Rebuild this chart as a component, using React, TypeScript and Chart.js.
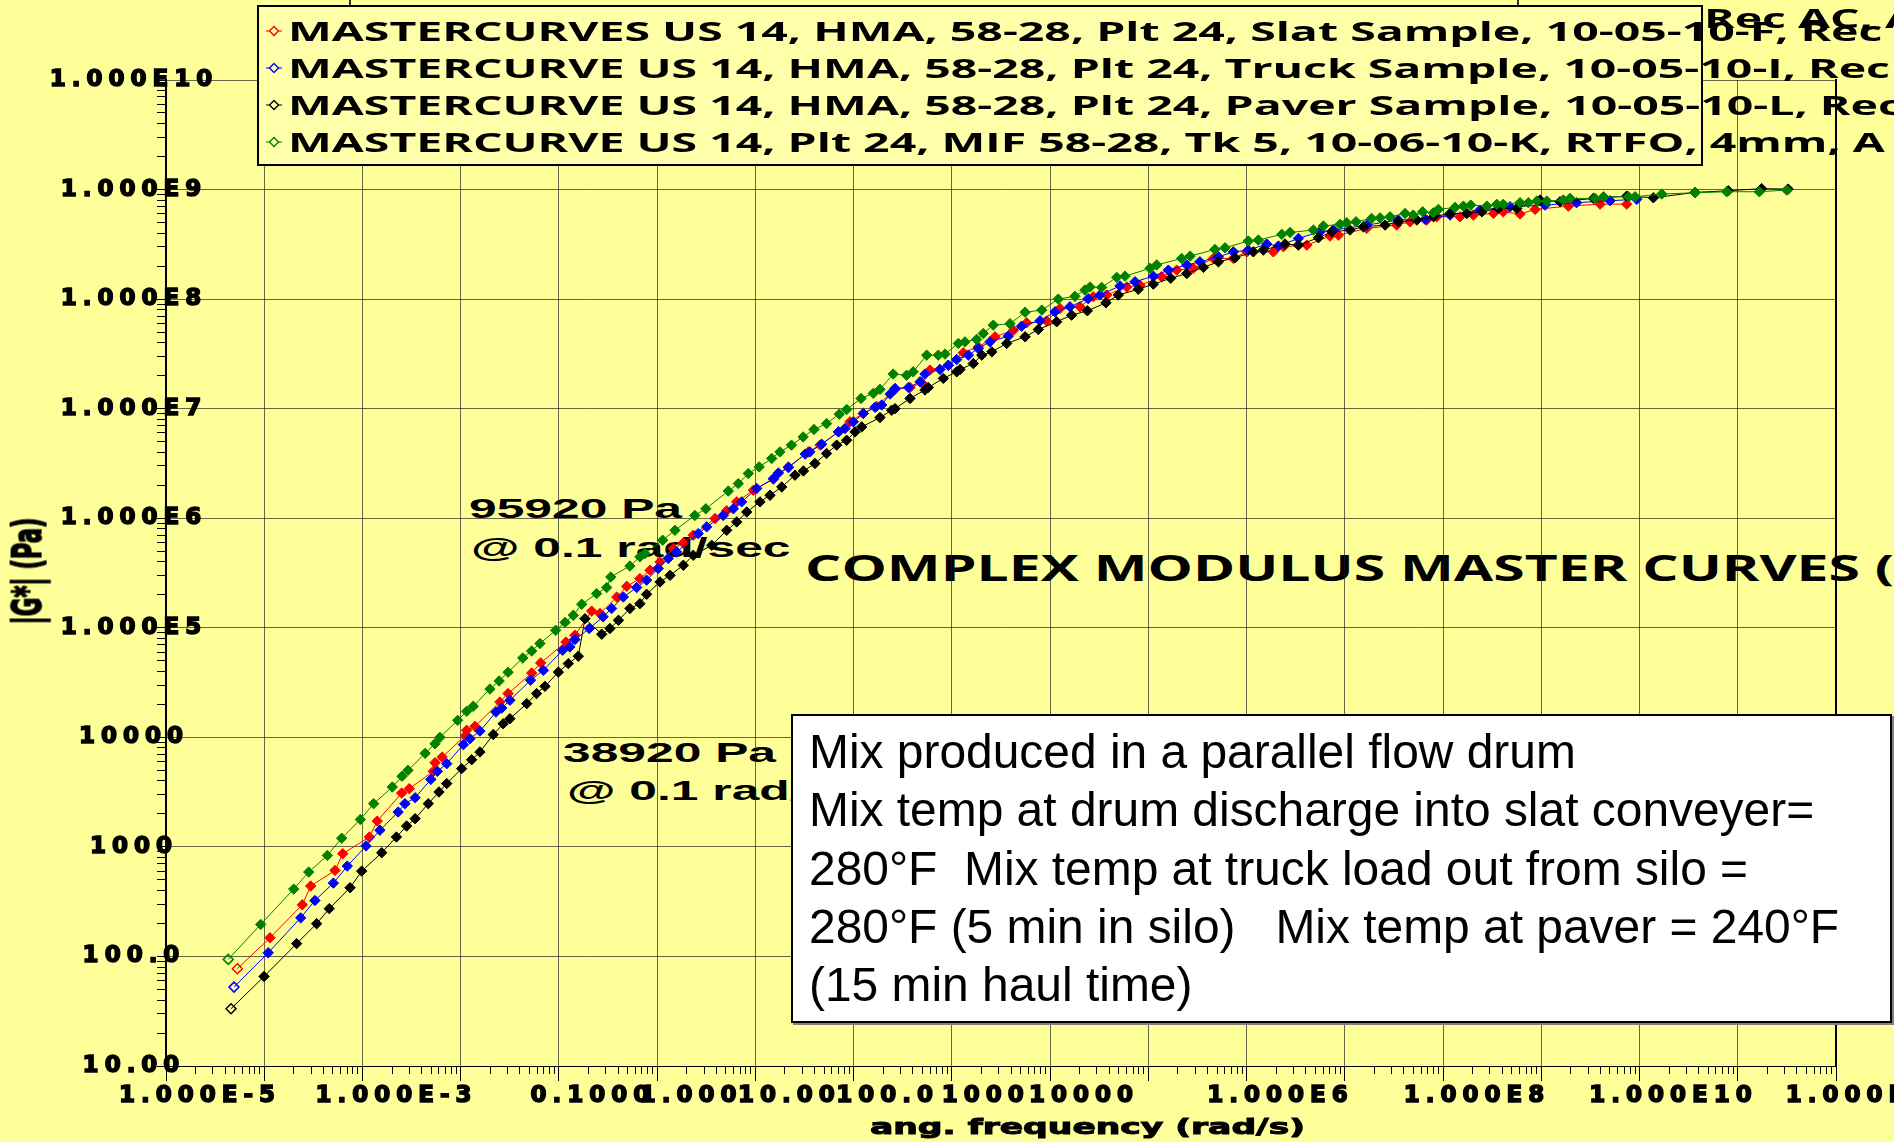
import React, { useEffect, useRef } from 'react';
import { Chart, registerables } from 'chart.js';

Chart.register(...registerables);

// ---------------- data ----------------
const RED_FREQ = [2.40e-5, 5.16e-5, 1.10e-4, 1.34e-4, 2.37e-4, 2.84e-4, 5.30e-4, 6.38e-4, 1.13e-3, 1.35e-3,
  2.37e-3, 2.47e-3, 2.92e-3, 5.05e-3, 5.18e-3, 6.30e-3, 1.13e-2, 1.37e-2, 2.38e-2, 2.94e-2,
  5.31e-2, 6.56e-2, 9.70e-2, 1.18e-1, 1.75e-1, 2.21e-1, 3.01e-1, 3.81e-1, 4.82e-1, 6.59e-1,
  8.32e-1, 1.05, 1.75, 2.30, 2.91, 4.30, 6.87, 9.77, 15.6, 20.5,
  31.6, 41.4, 56.6, 77.4, 119, 169, 222, 270, 415, 589,
  837, 1240, 1910, 2600, 4160, 5680, 9080, 1.24e4, 1.70e4, 2.72e4,
  3.71e4, 6.17e4, 8.77e4, 1.29e5, 2.07e5, 3.31e5, 4.52e5, 8.45e5, 1.07e6, 1.85e6,
  3.19e6, 3.88e6, 7.53e6, 1.52e7, 2.08e7, 3.08e7, 3.89e7, 6.71e7, 9.18e7, 1.47e8,
  1.85e8, 2.74e8, 3.90e8, 8.51e8, 1.79e9, 3.34e9];
const RED_MOD = [77.3, 148, 296, 439, 610, 867, 1230, 1720, 3100, 3400,
  4890, 5870, 6610, 10400, 11600, 12600, 21000, 25100, 38600, 47800,
  74100, 85500, 1.42e5, 1.35e5, 1.91e5, 2.39e5, 2.81e5, 3.35e5, 3.99e5, 5.28e5,
  5.94e5, 7.00e5, 9.93e5, 1.17e6, 1.41e6, 1.80e6, 2.27e6, 2.94e6, 4.03e6, 4.65e6,
  6.14e6, 7.59e6, 9.04e6, 1.05e7, 1.50e7, 1.56e7, 1.72e7, 2.25e7, 2.49e7, 3.24e7,
  3.66e7, 4.53e7, 5.21e7, 6.08e7, 6.31e7, 8.22e7, 8.51e7, 1.05e8, 1.09e8, 1.29e8,
  1.34e8, 1.60e8, 1.84e8, 1.91e8, 2.35e8, 2.35e8, 2.70e8, 2.70e8, 3.01e8, 3.11e8,
  3.76e8, 3.84e8, 4.42e8, 4.74e8, 5.08e8, 5.27e8, 5.65e8, 5.65e8, 5.85e8, 6.05e8,
  6.27e8, 5.97e8, 6.59e8, 7.06e8, 7.36e8, 7.36e8];

const BLUE_FREQ = [2.22e-5, 4.95e-5, 1.06e-4, 1.48e-4, 2.28e-4, 3.16e-4, 4.90e-4, 6.79e-4, 1.04e-3, 1.22e-3,
  1.55e-3, 2.24e-3, 2.61e-3, 3.25e-3, 4.80e-3, 5.61e-3, 7.08e-3, 1.03e-2, 1.18e-2, 1.43e-2,
  2.32e-2, 3.13e-2, 4.92e-2, 5.83e-2, 6.56e-2, 9.18e-2, 1.27e-1, 1.55e-1, 2.04e-1, 2.79e-1,
  3.52e-1, 4.62e-1, 5.85e-1, 7.11e-1, 1.18, 1.44, 2.12, 2.69, 3.27, 4.65,
  6.87, 7.73, 9.77, 14.5, 16.2, 21.3, 31.6, 36.8, 44.8, 56.6,
  74.5, 87.1, 106, 119, 163, 214, 240, 341, 415, 505,
  664, 837, 1100, 1690, 2310, 3560, 5060, 7180, 1.10e4, 1.45e4,
  2.32e4, 3.30e4, 5.07e4, 7.21e4, 1.11e5, 1.51e5, 2.33e5, 3.31e5, 4.70e5, 7.23e5,
  9.51e5, 1.52e6, 2.52e6, 3.45e6, 7.53e6, 1.58e7, 2.96e7, 5.32e7, 1.07e8, 2.17e8,
  4.92e8, 1.03e9, 2.26e9, 4.23e9];
const BLUE_MOD = [52.5, 108, 225, 324, 467, 668, 1020, 1420, 2080, 2480,
  2810, 4130, 4890, 5750, 8570, 9720, 11400, 17000, 18500, 21800,
  33200, 40900, 62400, 66800, 78000, 98400, 1.26e5, 1.50e5, 1.91e5, 2.33e5,
  2.72e5, 3.48e5, 4.29e5, 4.92e5, 7.24e5, 8.34e5, 1.06e6, 1.22e6, 1.41e6, 1.87e6,
  2.30e6, 2.59e6, 2.90e6, 3.85e6, 4.03e6, 4.74e6, 6.14e6, 6.59e6, 7.59e6, 9.04e6,
  1.03e7, 1.08e7, 1.36e7, 1.53e7, 1.56e7, 1.76e7, 2.07e7, 2.28e7, 2.49e7, 2.81e7,
  3.08e7, 3.54e7, 4.07e7, 4.59e7, 5.66e7, 6.34e7, 7.66e7, 8.51e7, 1.01e8, 1.09e8,
  1.32e8, 1.44e8, 1.62e8, 1.84e8, 2.05e8, 2.19e8, 2.43e8, 2.70e8, 2.80e8, 3.18e8,
  3.05e8, 3.58e8, 4.12e8, 4.27e8, 4.74e8, 5.27e8, 5.35e8, 5.85e8, 6.50e8, 6.97e8,
  7.21e8, 7.59e8, 7.91e8, 8.15e8];

const BLACK_FREQ = [2.07e-5, 4.49e-5, 9.64e-5, 1.54e-4, 2.07e-4, 3.37e-4, 4.43e-4, 7.08e-4, 1.00e-3, 1.27e-3,
  1.55e-3, 2.11e-3, 2.71e-3, 3.25e-3, 4.61e-3, 5.83e-3, 7.08e-3, 9.68e-3, 1.22e-2, 1.43e-2,
  2.12e-2, 2.67e-2, 3.25e-2, 4.45e-2, 5.62e-2, 7.10e-2, 8.30e-2, 1.23e-1, 1.49e-1, 1.82e-1,
  2.38e-1, 3.01e-1, 3.52e-1, 4.82e-1, 6.10e-1, 8.32e-1, 1.05, 1.62, 2.30, 2.91,
  3.68, 5.02, 6.35, 8.36, 11.4, 13.9, 18.2, 23.9, 30.3, 38.3,
  46.6, 54.5, 83.6, 110, 119, 169, 240, 259, 369, 505,
  546, 745, 908, 1150, 1630, 2510, 3420, 5260, 7460, 1.08e4,
  1.67e4, 2.23e4, 3.56e4, 5.07e4, 7.62e4, 1.11e5, 1.64e5, 2.33e5, 3.44e5, 5.28e5,
  6.68e5, 1.11e6, 1.52e6, 2.43e6, 3.32e6, 5.09e6, 6.97e6, 1.16e7, 1.58e7, 2.44e7,
  3.61e7, 5.32e7, 7.87e7, 1.12e8, 1.65e8, 2.54e8, 4.39e8, 7.00e8, 1.53e9, 3.34e9,
  6.24e9, 1.66e10, 3.61e10, 7.89e10, 1.47e11];
const BLACK_MOD = [33.3, 65.6, 131, 199, 273, 424, 601, 885, 1230, 1550,
  1810, 2480, 3170, 3780, 5180, 6250, 7350, 10600, 13300, 14800,
  20300, 25100, 29200, 39400, 47100, 55000, 1.21e5, 87300, 98400, 1.17e5,
  1.50e5, 1.66e5, 2.02e5, 2.62e5, 3.01e5, 3.72e5, 4.59e5, 5.66e5, 7.76e5, 9.25e5,
  1.14e6, 1.41e6, 1.62e6, 1.93e6, 2.47e6, 2.70e6, 3.16e6, 3.90e6, 4.65e6, 5.15e6,
  6.14e6, 6.82e6, 8.30e6, 9.68e6, 1.00e7, 1.24e7, 1.48e7, 1.56e7, 1.89e7, 2.17e7,
  2.28e7, 2.58e7, 3.08e7, 3.30e7, 3.94e7, 4.53e7, 5.28e7, 6.21e7, 7.14e7, 7.82e7,
  9.25e7, 1.09e8, 1.23e8, 1.37e8, 1.55e8, 1.71e8, 1.95e8, 2.19e8, 2.38e8, 2.70e8,
  2.80e8, 3.18e8, 3.11e8, 3.63e8, 4.12e8, 4.27e8, 4.57e8, 4.74e8, 5.08e8, 5.27e8,
  5.65e8, 6.05e8, 6.05e8, 6.27e8, 6.73e8, 6.73e8, 8.02e8, 7.74e8, 8.30e8, 8.71e8,
  8.41e8, 9.42e8, 9.75e8, 1.02e9, 1.01e9];

const GREEN_FREQ = [1.94e-5, 4.15e-5, 9.00e-5, 1.28e-4, 1.98e-4, 2.77e-4, 4.29e-4, 5.86e-4, 9.08e-4, 1.14e-3,
  1.31e-3, 1.96e-3, 2.47e-3, 2.77e-3, 4.20e-3, 5.19e-3, 6.05e-3, 8.95e-3, 1.11e-2, 1.37e-2,
  1.93e-2, 2.38e-2, 2.89e-2, 4.18e-2, 5.20e-2, 6.31e-2, 7.69e-2, 1.09e-1, 1.38e-1, 1.52e-1,
  2.38e-1, 3.01e-1, 3.39e-1, 5.13e-1, 6.84e-1, 1.09, 1.41, 2.39, 3.02, 3.82,
  4.93, 6.61, 8.02, 10.5, 13.8, 17.8, 23.9, 32.2, 38.3, 53.6,
  71.4, 83.6, 114, 156, 182, 250, 328, 384, 525, 612,
  805, 942, 1190, 1760, 2510, 3710, 5460, 8070, 1.02e4, 1.15e4,
  1.51e4, 2.15e4, 2.61e4, 4.69e4, 5.48e4, 9.84e4, 1.20e5, 2.15e5, 2.72e5, 4.70e5,
  5.94e5, 1.03e6, 1.25e6, 2.16e6, 2.73e6, 4.03e6, 4.71e6, 5.86e6, 8.45e6,
  1.03e7, 1.30e7, 1.85e7, 2.24e7, 2.80e7, 3.59e7, 4.04e7, 5.97e7, 7.26e7, 8.63e7,
  1.26e8, 1.59e8, 1.85e8, 2.74e8, 3.33e8, 4.06e8, 5.13e8, 7.57e8, 8.85e8, 1.59e9,
  1.94e9, 3.48e9, 4.06e9, 7.59e9, 1.66e10, 3.48e10, 7.48e10, 1.42e11];
const GREEN_MOD = [94.0, 196, 412, 589, 836, 1200, 1780, 2480, 3520, 4410,
  5000, 7140, 8750, 10000, 14300, 17300, 19200, 27600, 32700, 39300,
  53000, 61400, 71800, 94800, 1.12e5, 1.30e5, 1.64e5, 2.05e5, 2.33e5, 2.91e5,
  3.66e5, 4.44e5, 4.76e5, 6.30e5, 7.76e5, 1.06e6, 1.22e6, 1.77e6, 2.07e6, 2.56e6,
  2.94e6, 3.51e6, 4.03e6, 4.65e6, 5.52e6, 6.46e6, 7.31e6, 8.91e6, 9.82e6, 1.24e7,
  1.38e7, 1.50e7, 2.07e7, 2.02e7, 2.17e7, 3.08e7, 3.08e7, 3.15e7, 3.94e7, 4.07e7,
  4.29e7, 4.86e7, 5.79e7, 5.96e7, 7.59e7, 7.94e7, 1.00e8, 1.06e8, 1.21e8, 1.29e8,
  1.28e8, 1.58e8, 1.62e8, 1.91e8, 2.05e8, 2.35e8, 2.47e8, 2.84e8, 2.94e8, 3.39e8,
  3.46e8, 3.90e8, 4.06e8, 4.27e8, 4.65e8, 4.81e8, 4.98e8, 5.08e8, 5.45e8,
  5.52e8, 5.64e8, 6.05e8, 5.85e8, 6.27e8, 6.14e8, 6.59e8, 6.87e8, 7.06e8, 7.21e8,
  7.06e8, 7.33e8, 7.33e8, 7.59e8, 7.59e8, 7.85e8, 7.85e8, 8.02e8, 8.30e8, 8.30e8,
  8.59e8, 8.59e8, 8.59e8, 9.10e8, 9.35e8, 9.55e8, 9.55e8, 9.89e8];

const LEGEND_LABELS = [
  'MASTERCURVES US 14, HMA, 58-28, Plt 24, Slat Sample, 10-05-10-F, Rec AC, A',
  'MASTERCURVE US 14, HMA, 58-28, Plt 24, Truck Sample, 10-05-10-I, Rec AC, A',
  'MASTERCURVE US 14, HMA, 58-28, Plt 24, Paver Sample, 10-05-10-L, Rec AC, A',
  'MASTERCURVE US 14, Plt 24, MIF 58-28, Tk 5, 10-06-10-K, RTFO, 4mm, A',
];
const SERIES_COLORS = ['#ff0000', '#0000ff', '#000000', '#008000'];

// axis ranges and tick labels
const X_MIN = 4.51e-6;
const X_MAX = 4.51e11;
const X_GRID_VALUES = [4.51e-6, 4.51e-5, 4.51e-4, 4.51e-3, 4.51e-2, 4.51e-1, 4.51, 45.1, 451, 4510,
  4.51e4, 4.51e5, 4.51e6, 4.51e7, 4.51e8, 4.51e9, 4.51e10, 4.51e11];
const X_LABEL_VALUES = [1e-5, 1e-3, 0.1, 1, 10, 100, 1000, 1e4, 1e6, 1e8, 1e10, 1e12];
const X_TICK_LABELS = ['1.000E-5', '1.000E-3', '0.1000', '1.000', '10.00', '100.0', '1000', '10000',
  '1.000E6', '1.000E8', '1.000E10', '1.000E12'];
const Y_MIN = 10;
const Y_MAX = 1e10;
const Y_LABEL_VALUES = [10, 100, 1000, 1e4, 1e5, 1e6, 1e7, 1e8, 1e9, 1e10];
const Y_TICK_LABELS = ['10.00', '100.0', '1000', '10000', '1.000E5', '1.000E6', '1.000E7', '1.000E8',
  '1.000E9', '1.000E10'];

const X_TITLE = 'ang. frequency (rad/s)';
const Y_TITLE = '|G*| (Pa)';
const NOTE_LINES = [
  'Mix produced in a parallel flow drum',
  'Mix temp at drum discharge into slat conveyer=',
  '280°F  Mix temp at truck load out from silo =',
  '280°F (5 min in silo)   Mix temp at paver = 240°F',
  '(15 min haul time)',
];
const MAIN_TITLE = 'COMPLEX MODULUS MASTER CURVES (';

// ---------------- helpers ----------------
const MINOR = [2, 3, 4, 5, 6, 7, 8, 9];
const same = (a: number, b: number) => Math.abs(Math.log10(a) - Math.log10(b)) < 1e-6;
const inList = (v: number, list: number[]) => list.some((w) => same(v, w));
const labelFor = (v: number, vals: number[], labels: string[]) => {
  for (let i = 0; i < vals.length; i++) if (same(v, vals[i])) return labels[i];
  return '';
};
const X_MINOR_VALUES = X_GRID_VALUES.slice(0, -1).flatMap((g) => MINOR.map((m) => g * m));
const Y_MINOR_VALUES = Y_LABEL_VALUES.slice(0, -1).flatMap((g) => MINOR.map((m) => g * m));

let mctx: CanvasRenderingContext2D | null = null;
function textWidth(text: string, font: string): number {
  if (!mctx) mctx = document.createElement('canvas').getContext('2d');
  mctx!.font = font;
  (mctx as any).letterSpacing = '0px';
  return mctx!.measureText(text).width;
}

const BG = '#FFFF99';
const GRID = 'rgba(30,30,30,0.68)';
const TRANSPARENT = 'rgba(0,0,0,0)';
const AXIS_SIZE = 23;
const AXIS_SPACING = 6;
const AXIS_FONT = { family: '"DejaVu Sans"', size: AXIS_SIZE, weight: 'bold' as const };

const spacingPlugin = {
  id: 'axisLetterSpacing',
  beforeDraw(chart: any) { chart.ctx.letterSpacing = `${AXIS_SPACING}px`; },
  beforeDatasetsDraw(chart: any) { chart.ctx.letterSpacing = '0px'; },
};

type STextProps = {
  text: string; x: number; cy: number; size: number; family: string;
  weight?: number; sx?: number; z?: number; color?: string; stroke?: number;
};
function SText({ text, x, cy, size, family, weight = 400, sx = 1, z = 0, color = '#000', stroke = 0 }: STextProps) {
  const lh = Math.round(size * 1.25);
  return (
    <div style={{
      position: 'absolute', left: x, top: cy - lh / 2, height: lh, lineHeight: `${lh}px`,
      fontSize: size, fontFamily: family, fontWeight: weight, whiteSpace: 'pre', color,
      transform: `scaleX(${sx})`, transformOrigin: '0 50%', zIndex: z,
      WebkitTextStroke: stroke ? `${stroke}px ${color}` : undefined,
    }}>{text}</div>
  );
}

export default function App() {
  const canvasRef = useRef<HTMLCanvasElement | null>(null);

  useEffect(() => {
    document.body.style.margin = '0';
    document.documentElement.style.overflow = 'hidden';
    const canvas = canvasRef.current;
    if (!canvas) return;
    const series = [
      { f: RED_FREQ, g: RED_MOD }, { f: BLUE_FREQ, g: BLUE_MOD },
      { f: BLACK_FREQ, g: BLACK_MOD }, { f: GREEN_FREQ, g: GREEN_MOD },
    ];
    const drawOrder = [4, 3, 2, 1];
    // y tick labels are centred at x = 134 (drawn over the axis line, as in the reference)
    const widest = textWidth('1.000E10', `bold ${AXIS_SIZE}px "DejaVu Sans"`);
    const yPad = 134 - 166 - widest / 2;
    const chart = new Chart(canvas, {
      type: 'scatter',
      data: {
        datasets: series.map((s, i) => {
          const c = SERIES_COLORS[i];
          return {
            label: LEGEND_LABELS[i],
            data: s.f.map((f, j) => ({ x: f, y: s.g[j] })),
            showLine: true,
            borderColor: c,
            backgroundColor: c,
            borderWidth: 1,
            tension: 0,
            pointStyle: 'rectRot',
            pointRadius: (ctx: any) => (ctx.dataIndex === 0 ? 5 : 5.2),
            pointBorderWidth: (ctx: any) => (ctx.dataIndex === 0 ? 1.5 : 1),
            pointBackgroundColor: (ctx: any) => (ctx.dataIndex === 0 ? TRANSPARENT : c),
            pointBorderColor: c,
            order: drawOrder[i],
            xAxisID: 'x',
            yAxisID: 'y',
          } as any;
        }),
      },
      options: {
        responsive: false,
        animation: false,
        devicePixelRatio: 1,
        events: [],
        layout: { padding: { left: 0, top: 80, right: 58, bottom: 0 } },
        plugins: { legend: { display: false }, tooltip: { enabled: false }, title: { display: false } },
        scales: {
          x: {
            type: 'logarithmic', position: 'bottom', min: X_MIN, max: X_MAX, bounds: 'data',
            afterBuildTicks: (s: any) => {
              s.ticks = [...X_GRID_VALUES, ...X_MINOR_VALUES, ...X_LABEL_VALUES].map((v) => ({ value: v }));
            },
            afterFit: (s: any) => { s.height = 76; s.paddingLeft = 0; s.paddingRight = 0; },
            ticks: {
              autoSkip: false, maxRotation: 0, minRotation: 0, padding: 8, color: '#000', font: AXIS_FONT,
              textStrokeColor: '#000', textStrokeWidth: 1.6,
              callback: (v: any) => labelFor(Number(v), X_LABEL_VALUES, X_TICK_LABELS),
            },
            grid: {
              color: (ctx: any) => (ctx.tick && inList(ctx.tick.value, X_GRID_VALUES) ? GRID : TRANSPARENT),
              tickColor: (ctx: any) => (ctx.tick && inList(ctx.tick.value, X_LABEL_VALUES) ? TRANSPARENT : '#000'),
              tickLength: 8, lineWidth: 1,
            },
            border: { display: true, color: '#000', width: 1 },
          },
          xMajor: {
            type: 'logarithmic', axis: 'x', position: { y: Y_MIN }, min: X_MIN, max: X_MAX, bounds: 'data',
            afterBuildTicks: (s: any) => { s.ticks = X_GRID_VALUES.map((v) => ({ value: v })); },
            afterFit: (s: any) => { s.height = 0; s.paddingLeft = 0; s.paddingRight = 0; },
            ticks: { display: false },
            grid: { drawOnChartArea: false, tickLength: 15, color: '#000', tickColor: '#000', lineWidth: 1 },
            border: { display: false },
          },
          y: {
            type: 'logarithmic', position: 'left', min: Y_MIN, max: Y_MAX, bounds: 'data',
            afterBuildTicks: (s: any) => {
              s.ticks = [...Y_LABEL_VALUES, ...Y_MINOR_VALUES].map((v) => ({ value: v }));
            },
            afterFit: (s: any) => { s.width = 166; s.paddingTop = 0; s.paddingBottom = 0; },
            ticks: {
              autoSkip: false, mirror: true, crossAlign: 'center', padding: yPad, color: '#000', font: AXIS_FONT,
              textStrokeColor: '#000', textStrokeWidth: 1.6,
              callback: (v: any) => labelFor(Number(v), Y_LABEL_VALUES, Y_TICK_LABELS),
            },
            grid: {
              color: (ctx: any) => (ctx.tick && inList(ctx.tick.value, Y_LABEL_VALUES) ? GRID : TRANSPARENT),
              tickColor: '#000', tickLength: 9, lineWidth: 1,
            },
            border: { display: true, color: '#000', width: 2 },
          },
          yR: {
            type: 'linear', axis: 'y', position: 'right', min: 0, max: 1,
            afterFit: (s: any) => { s.width = 0; s.paddingTop = 0; s.paddingBottom = 0; },
            ticks: { display: false },
            grid: { display: false, drawTicks: false },
            border: { display: true, color: '#000', width: 2 },
          },
        } as any,
      },
      plugins: [spacingPlugin],
    } as any);
    return () => chart.destroy();
  }, []);

  // text calibration (fonts are stretched horizontally in the reference)
  const legSize = 27;
  const legFamily = '"Open Sans"';
  const row2 = LEGEND_LABELS[1];
  const legSx = (1808 - 288) / textWidth(row2.slice(0, row2.indexOf('Rec')), `700 ${legSize}px ${legFamily}`);
  const annSize = 28;
  const annFamily = '"Liberation Sans"';
  const annSx = 213 / textWidth('95920 Pa', `700 ${annSize}px ${annFamily}`);
  const ttlSize = 35;
  const ttlSx = (1860 - 805) / textWidth('COMPLEX MODULUS MASTER CURVES', `700 ${ttlSize}px ${legFamily}`);
  const boxSize = 48 * 767 / textWidth(NOTE_LINES[0], `400 48px ${annFamily}`);
  const xtSize = 22;
  const xtSx = 435 / textWidth(X_TITLE, `700 ${xtSize}px "DejaVu Sans"`);
  const ytSize = 107 / (textWidth(Y_TITLE, '700 100px "DejaVu Sans"') / 100);
  const ytSx = 29 / (0.729 * ytSize);

  const legendRows = [31, 68, 105, 142];
  const noteRows = [752, 810, 869, 927, 985];

  return (
    <div style={{ position: 'fixed', left: 0, top: 0, width: 1894, height: 1142, overflow: 'hidden', background: BG }}>
      {/* annotations drawn under the plot */}
      <SText text="95920 Pa" x={469} cy={508} size={annSize} family={annFamily} weight={700} sx={annSx} />
      <SText text="@ 0.1 rad/sec" x={471} cy={547} size={annSize} family={annFamily} weight={700} sx={annSx} />
      <SText text="38920 Pa" x={563} cy={752} size={annSize} family={annFamily} weight={700} sx={annSx} />
      <SText text="@ 0.1 rad/sec" x={567} cy={790} size={annSize} family={annFamily} weight={700} sx={annSx} />
      <SText text={MAIN_TITLE} x={805} cy={568} size={ttlSize} family={legFamily} weight={700} sx={ttlSx} />

      <canvas ref={canvasRef} width={1894} height={1142}
        style={{ position: 'absolute', left: 0, top: 0, width: 1894, height: 1142, zIndex: 1 }} />

      {/* axis titles */}
      <SText text={X_TITLE} x={870} cy={1127} size={xtSize} family='"DejaVu Sans"' weight={700} sx={xtSx} z={2} stroke={1} />
      <div style={{ position: 'absolute', left: 27, top: 571, width: 0, height: 0, zIndex: 2 }}>
        <div style={{
          position: 'absolute', left: 0, top: 0, whiteSpace: 'nowrap', lineHeight: 1,
          fontFamily: '"DejaVu Sans"', fontWeight: 700, fontSize: ytSize, color: '#000',
          WebkitTextStroke: '1px #000',
          transform: `translate(-50%, -50%) scaleX(${ytSx}) rotate(-90deg)`,
        }}>{Y_TITLE}</div>
      </div>

      {/* items behind the legend */}
      <div style={{ position: 'absolute', left: 349, top: -30, width: 1170, height: 50, boxSizing: 'border-box', border: '2px solid #333', zIndex: 2 }} />
      <SText text="Rec AC, A" x={1704} cy={18} size={legSize} family={legFamily} weight={700} sx={legSx} z={2} />

      {/* legend */}
      <div style={{ position: 'absolute', left: 257, top: 5, width: 1446, height: 161, boxSizing: 'border-box', border: '2px solid #000', background: '#FFFFAA', zIndex: 3 }} />
      {LEGEND_LABELS.map((t, i) => (
        <React.Fragment key={i}>
          <svg width={18} height={16} style={{ position: 'absolute', left: 265, top: legendRows[i] - 8, zIndex: 4 }}>
            <line x1={1} y1={8} x2={17} y2={8} stroke={SERIES_COLORS[i]} strokeWidth={1} />
            <polygon points="9,3.5 13.5,8 9,12.5 4.5,8" fill="#FFFFAA" stroke={SERIES_COLORS[i]} strokeWidth={1.4} />
          </svg>
          <SText text={t} x={288} cy={legendRows[i]} size={legSize} family={legFamily} weight={700} sx={legSx} z={4} />
        </React.Fragment>
      ))}

      {/* note box */}
      <div style={{ position: 'absolute', left: 791, top: 714, width: 1101, height: 309, boxSizing: 'border-box', border: '2px solid #000', background: '#ffffff', boxShadow: '2px 2px 0 #808080', zIndex: 3 }} />
      {NOTE_LINES.map((t, i) => (
        <SText key={i} text={t} x={809} cy={noteRows[i]} size={boxSize} family={annFamily} z={4} />
      ))}
    </div>
  );
}
